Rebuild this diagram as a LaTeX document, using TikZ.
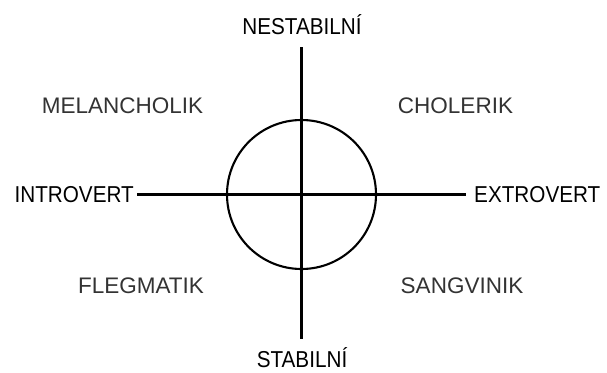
\documentclass[tikz,border=0pt]{standalone}
\usepackage{fontspec}
\setmainfont{Liberation Sans}
\newfontfamily\condsans[FakeStretch=0.9]{Liberation Sans}
\begin{document}
\begin{tikzpicture}[x=1pt,y=-1pt,
  axis/.style={line width=2.1pt,black},
  mainlbl/.style={inner sep=0pt,font=\condsans\fontsize{23}{26}\selectfont,text=black},
  quadlbl/.style={inner sep=0pt,font=\fontsize{22.5}{26}\selectfont,text=black!80}]
\useasboundingbox (0,0) rectangle (607,372);
\coordinate (c) at (301.5,194.5);
\node[mainlbl,anchor=east] (intro) at (134,194.5) {INTROVERT};
\node[mainlbl,anchor=west] (extro) at (474,194.5) {EXTROVERT};
\node[mainlbl] (nest) at (302,25) {NESTABILNÍ};
\node[mainlbl] (stab) at (302,358) {STABILNÍ};
\coordinate (top) at (301.5,47);
\coordinate (bot) at (301.5,339);
\coordinate (lft) at (137,194.5);
\coordinate (rgt) at (466,194.5);
\draw[axis] (lft) -- (rgt);
\draw[axis] (top) -- (bot);
\draw[axis] (c) circle[radius=74.5];
\node[quadlbl] (mel) at (122.5,106) {MELANCHOLIK};
\node[quadlbl] (cho) at (455.5,106) {CHOLERIK};
\node[quadlbl] (fle) at (141,286) {FLEGMATIK};
\node[quadlbl] (san) at (462,286) {SANGVINIK};
\end{tikzpicture}
\end{document}
